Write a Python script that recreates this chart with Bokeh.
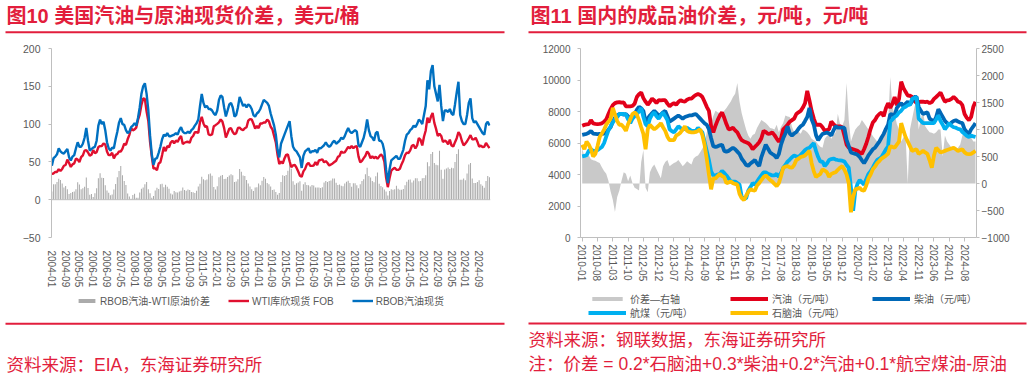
from bokeh.plotting import figure
from bokeh.models import (Range1d, LinearAxis, FixedTicker, Legend, LegendItem,
                          Label, BoxAnnotation, Span)
from bokeh.layouts import column, row
from bokeh.embed import file_html
from bokeh.resources import INLINE

# ---------------- 图10 data: monthly, from 2004-01 ----------------
us_start_year = 2004
wti = [
    34.3, 34.7, 36.7, 36.7, 40.3, 38.0, 40.7, 44.9, 45.9, 53.1, 48.5, 43.3,
    46.8, 48.0, 54.3, 53.0, 49.8, 56.3, 58.7, 65.0, 65.6, 62.4, 58.3, 59.4,
    65.5, 61.6, 62.9, 69.7, 70.9, 71.0, 74.4, 73.0, 63.8, 58.9, 59.1, 62.0,
    54.5, 59.3, 60.4, 64.0, 63.5, 67.5, 74.1, 72.4, 79.9, 85.8, 94.8, 91.7,
    93.0, 95.4, 105.5, 112.6, 125.4, 133.9, 133.4, 116.7, 104.1, 76.6, 57.3, 41.1,
    41.7, 39.1, 47.9, 49.6, 59.0, 69.6, 64.2, 71.0, 69.4, 75.7, 78.0, 74.5,
    78.3, 76.4, 81.2, 84.3, 73.7, 75.3, 76.3, 76.6, 75.2, 81.9, 84.3, 89.2,
    89.2, 88.6, 102.9, 109.5, 100.9, 96.3, 97.3, 86.3, 85.5, 86.3, 97.2, 98.6,
    100.3, 102.2, 106.2, 103.3, 94.7, 82.3, 87.9, 94.1, 94.5, 89.5, 86.5, 87.9,
    94.8, 95.3, 92.9, 92.0, 94.5, 95.8, 104.6, 106.6, 106.3, 100.5, 93.9, 97.6,
    94.6, 100.8, 100.8, 102.1, 102.2, 105.8, 103.6, 96.5, 93.2, 84.4, 75.8, 59.3,
    47.2, 50.6, 47.8, 54.5, 59.3, 59.8, 50.9, 42.9, 45.5, 46.2, 42.4, 37.2,
    31.7, 30.3, 37.5, 40.8, 46.7, 48.8, 44.7, 44.7, 45.2, 49.8, 45.7, 52.0,
    52.5, 53.5, 49.3, 51.1, 48.5, 45.2, 46.6, 48.0, 49.8, 51.6, 56.6, 57.9,
    63.7, 62.2, 62.7, 66.3, 70.0, 67.9, 71.0, 68.1, 70.2, 70.8, 57.0, 49.5,
    51.4, 55.0, 58.2, 63.9, 60.8, 54.7, 57.4, 54.8, 57.0, 54.0, 57.0, 59.9,
    57.5, 50.5, 29.2, 16.6, 28.5, 38.3, 40.7, 42.3, 39.6, 39.4, 40.9, 47.0,
    52.0, 59.0, 62.3, 61.7, 65.2, 71.4, 72.5, 67.7, 71.7, 81.5, 79.2, 71.7,
    83.2, 91.6, 108.5, 101.8, 109.6, 114.8, 101.6, 93.7, 84.3, 87.3, 84.4, 76.4,
    78.1, 76.8, 73.3, 79.4, 71.6, 70.3, 76.1, 81.4, 89.4, 85.6, 77.7, 71.9,
    74.2, 77.3, 81.3, 85.4, 80.0, 79.8, 81.8, 76.7, 70.2, 71.6, 69.7, 70.1,
    75.1, 71.5, 68.2,
]
rbob = [
    45, 55, 57, 60, 68, 64, 62, 61, 64, 67, 56, 52,
    57, 59, 68, 76, 70, 70, 74, 82, 95, 78, 65, 67,
    69, 70, 78, 98, 106, 100, 103, 92, 76, 68, 65, 69,
    68, 80, 90, 102, 108, 100, 99, 92, 88, 90, 96, 98,
    101, 98, 108, 122, 140, 150, 154, 140, 118, 85, 60, 46,
    54, 55, 62, 70, 80, 86, 84, 88, 84, 84, 85, 86,
    88, 86, 92, 96, 90, 88, 88, 90, 88, 92, 94, 98,
    101, 106, 124, 140, 128, 122, 124, 120, 120, 118, 114, 112,
    118, 132, 138, 136, 122, 110, 118, 126, 128, 122, 110, 112,
    122, 136, 130, 124, 126, 122, 126, 124, 120, 112, 110, 114,
    116, 120, 126, 132, 130, 128, 124, 114, 106, 98, 86, 66,
    56, 74, 80, 86, 92, 98, 104, 84, 70, 66, 64, 60,
    56, 42, 58, 64, 66, 68, 62, 64, 64, 66, 62, 68,
    68, 70, 72, 76, 72, 70, 72, 76, 78, 74, 76, 78,
    82, 80, 84, 90, 95, 90, 88, 90, 92, 90, 72, 70,
    76, 82, 92, 106, 92, 84, 82, 78, 88, 90, 78, 78,
    74, 64, 40, 22, 40, 52, 54, 56, 58, 54, 54, 60,
    66, 78, 86, 88, 92, 94, 98, 96, 100, 106, 104, 100,
    112, 124, 158, 146, 170, 178, 150, 140, 130, 152, 124, 104,
    118, 118, 116, 120, 114, 112, 126, 142, 156, 112, 104, 100,
    100, 112, 128, 134, 108, 102, 104, 100, 96, 92, 88, 86,
    100, 103, 98,
]
us_spread = [round(b - w, 1) for b, w in zip(rbob, wti)]   # RBOB汽油-WTI原油价差

# ---------------- 图11 data: monthly, from 2010-01 ----------------
cn_start_year = 2010
gasoline = [
    7100, 7150, 7180, 7200, 7450, 7250, 7220, 7200, 7220, 7250, 7350, 7500,
    7840, 8150, 8400, 8530, 8580, 8600, 8560, 8580, 8330, 8320, 8330, 8350,
    8500, 8920, 9100, 9210, 8850, 8620, 8430, 8600, 8820, 8700, 8530, 8720,
    8700, 8720, 8720, 8500, 8330, 8450, 8530, 8430, 8600, 8720, 8650, 8620,
    8750, 8820, 8820, 8950, 9050, 9110, 9050, 8920, 8620, 8300, 8040, 7060,
    6670, 7100, 7450, 7750, 7940, 7600, 7200, 6870, 6900, 6970, 6800, 6670,
    6400, 6180, 6100, 6050, 5990, 5850, 5600, 5750, 5890, 6050, 6300, 6770,
    6700, 6580, 6600, 6670, 6500, 6280, 6090, 6300, 6870, 7000, 7160, 7350,
    7450, 7550, 7840, 7950, 8040, 8250, 8530, 9310, 8700, 8040, 7550, 7160,
    7160, 7160, 7000, 6770, 6820, 6870, 7360, 7200, 7060, 7060, 7060, 7000,
    6480, 5900, 5700, 5650, 5600, 5550, 5500, 5400, 5310, 5600, 5950, 6400,
    6900, 7300, 7450, 7700, 7840, 7940, 7700, 8200, 8530, 8230, 8500, 8920,
    8400, 8800, 9890, 9500, 9250, 9010, 9000, 8920, 8700, 8530, 8600, 8620,
    8620, 8600, 8620, 8530, 8600, 8800, 8920, 9050, 9210, 8900, 8620, 8700,
    8720, 8800, 8920, 8800, 8620, 8580, 8400, 7840, 7600, 7450, 7650, 8300,
    8620,
]
diesel = [
    6520, 6550, 6580, 6650, 6770, 6600, 6580, 6560, 6580, 6580, 6600, 6670,
    6850, 7000, 7360, 7600, 7750, 7840, 7840, 7800, 7840, 7700, 7550, 7700,
    7840, 8100, 8300, 8200, 8040, 7360, 7550, 7750, 7900, 8040, 7900, 7750,
    7800, 7950, 8040, 7700, 7360, 7450, 7550, 7650, 7750, 7650, 7550, 7650,
    7700, 7750, 7750, 7800, 7840, 7700, 7550, 7400, 7250, 7160, 6870, 6300,
    5800, 5750, 5790, 5850, 5890, 5500, 5450, 5500, 5600, 5700, 5600, 5450,
    5300, 5000, 4820, 4600, 4550, 4700, 4800, 4920, 4700, 4530, 5110, 5500,
    5890, 5650, 5400, 5300, 5210, 5050, 5300, 5890, 6300, 6600, 7060, 6600,
    6480, 6600, 6700, 6900, 7060, 7160, 7400, 7650, 8230, 7500, 7160, 6500,
    6180, 6400, 6580, 6620, 6670, 6600, 6480, 6800, 7060, 6970, 6970, 6970,
    6970, 6200, 5800, 5400, 5350, 5310, 5250, 5110, 4900, 4720, 4950, 5210,
    5400, 5600, 5700, 5900, 6090, 6350, 6580, 6900, 7160, 7840, 7800, 7750,
    8230, 8400, 8530, 8330, 8500, 8620, 8430, 8650, 8920, 8920, 8300, 8040,
    7840, 7900, 7940, 7550, 7450, 7360, 7650, 8140, 7900, 7650, 7400, 7260,
    7160, 7300, 7400, 7450, 7360, 7300, 7260, 6870, 6700, 6580, 6870, 7050,
    7260,
]
jet = [
    5150, 5180, 5210, 5500, 5600, 5500, 5500, 5550, 5650, 5750, 5990, 6400,
    6800, 7060, 7300, 7500, 7650, 7840, 7840, 7840, 7800, 7500, 7260, 7550,
    7700, 7840, 8000, 8230, 7650, 7200, 7060, 7550, 7800, 7940, 7700, 7550,
    7750, 7940, 7700, 7450, 6870, 6750, 6670, 6870, 7060, 6950, 6870, 6900,
    6970, 6870, 6770, 6770, 6770, 6970, 6800, 6670, 6090, 5500, 4920, 4200,
    3940, 3940, 4000, 4040, 4230, 4100, 3940, 3750, 3550, 3550, 3550, 3450,
    3360, 2580, 2480, 2480, 2970, 3200, 3450, 3360, 3550, 3750, 3950, 4140,
    4140, 4040, 4000, 3940, 3940, 4040, 3840, 4100, 4430, 4600, 4820, 4950,
    5100, 5210, 5150, 5110, 5250, 5400, 5550, 5650, 5700, 5850, 5990, 5500,
    5110, 4820, 4820, 4530, 4700, 4920, 4980, 5010, 4950, 4920, 4900, 4880,
    4820, 4600, 4430, 3160, 1700, 2970, 3400, 3650, 3500, 3360, 3700, 4040,
    4200, 4430, 4700, 4920, 5000, 5110, 5350, 5600, 5790, 7360, 7500, 7650,
    7750, 7940, 8050, 8230, 8300, 8400, 8430, 8820, 8850, 8920, 7550, 7400,
    7260, 7260, 7260, 7260, 7260, 7260, 7500, 7750, 7400, 7160, 6870, 7050,
    7260, 7100, 7000, 6970, 6900, 6870, 6700, 6580, 6450, 6380, 6480, 6420,
    6380,
]
naphtha = [
    5890, 5600, 6090, 5900, 5600, 5150, 5300, 5800, 6380, 6600, 6850, 7160,
    7350, 7550, 8230, 7800, 7400, 7160, 7160, 7000, 6770, 7200, 7500, 7840,
    7940, 7800, 7450, 7000, 6580, 5600, 6870, 7160, 7000, 6870, 6970, 7100,
    7260, 7000, 6770, 6400, 6180, 6180, 6180, 6480, 6550, 6670, 6850, 7060,
    6770, 6700, 6670, 6670, 6700, 6770, 6870, 6500, 5890, 5000, 4000, 3060,
    3750, 3750, 3900, 4040, 3900, 3840, 3450, 3500, 3550, 3450, 3400, 3360,
    2770, 2500, 2380, 2650, 2900, 3060, 3000, 2970, 3300, 3450, 3650, 3840,
    3940, 3800, 3650, 3550, 3400, 3260, 3450, 3900, 4430, 4500, 4530, 4450,
    4430, 4600, 4920, 5000, 5110, 5150, 5210, 5350, 5500, 4720, 4200, 3840,
    3950, 4040, 4330, 4250, 4140, 3840, 4040, 4100, 4140, 4300, 4430, 4530,
    4300, 4000, 3450, 1600, 2580, 3060, 3100, 3160, 3000, 2970, 3300, 3750,
    4000, 4330, 4500, 4720, 4850, 5010, 5100, 5200, 5310, 5790, 5750, 5700,
    5900, 6090, 7260, 6800, 6380, 6090, 5800, 5500, 5550, 5600, 5310, 5400,
    5500, 5400, 5310, 4900, 4430, 5200, 5700, 5550, 5400, 5450, 5500, 5550,
    5600, 5650, 5700, 5600, 5500, 5550, 5600, 5400, 5310, 5300, 5310, 5400,
    5500,
]
cn_spread = [
    650, 500, 480, 520, 450, 430, 420, 400, 380, 300, 230, 180,
    50, -150, -300, -530, -250, -130, 50, 210, 180, 40, 150, 10,
    -80, -100, -130, 400, 620, -80, -160, 210, 300, 350, 265, 180,
    95, 320, 400, 435, 320, 350, 380, 400, 435, 380, 320, 360,
    410, 380, 350, 465, 500, 520, 580, 650, 720, 950, 1050, 1120,
    1250, 1345, 1320, 1300, 1290, 1345, 1400, 1460, 1520, 1600, 1660, 1860,
    1520, 1300, 1150, 1000, 890, 830, 900, 920, 1030, 1100, 1175, 1150,
    1120, 1080, 1030, 1020, 1000, 1090, 950, 1050, 1120, 1260, 1240, 1230,
    1050, 950, 1000, 960, 920, 1000, 980, 950, 900, 830, 800, 780,
    720, 680, 660, 830, 880, 920, 830, 900, 950, 1290, 1100, 1060,
    1175, 1860, 1175, 780, 900, 1000, 1050, 1090, 1175, 1120, 1060, 1000,
    950, 880, 830, 780, 800, 830, 950, 1050, 1120, 1970, 1400, 1290,
    1100, 1000, 780, 850, 890, 0, 1000, 1200, 1400, 1570, 1000, 1200,
    1345, 1060, 1000, 950, 940, 920, 950, 1000, 1000, 500, 890, 780,
    720, 660, 640, 600, 660, 720, 890, 950, 1000, 890, 850, 780,
    780,
]

us_labels = ["RBOB汽油-WTI原油价差", "WTI库欣现货 FOB", "RBOB汽油现货"]
cn_labels = ["价差—右轴", "汽油（元/吨）", "柴油（元/吨）", "航煤（元/吨）", "石脑油（元/吨）"]
title_left = "图10  美国汽油与原油现货价差，美元/桶"
title_right = "图11  国内的成品油价差，元/吨，元/吨"
source_left = "资料来源：EIA，东海证券研究所"
source_right = "资料来源：钢联数据，东海证券研究所"
note_right = "注：价差 = 0.2*石脑油+0.3*柴油+0.2*汽油+0.1*航空煤油-原油"

us_months = [f"{us_start_year + i // 12}-{i % 12 + 1:02d}" for i in range(len(wti))]
cn_months = [f"{cn_start_year + i // 12}-{i % 12 + 1:02d}" for i in range(len(gasoline))]
us_x = list(range(len(wti)))
cn_x = list(range(len(gasoline)))
us_ticks = list(range(0, len(wti), 8))
cn_ticks = list(range(0, len(gasoline), 7))

# ---------------- styles ----------------
RED_TXT = "#E21E3C"
AX = "#BFBFBF"
LBL = "#595959"
NUM_FONT = "Liberation Sans"
MIX_FONT = "Liberation Sans, Noto Sans CJK SC"
C_BAR, C_WTI, C_RBOB = "#ABABAB", "#E0102F", "#0070C0"
C_SP, C_GAS, C_DIE, C_JET, C_NAP = "#C9C9C9", "#E2001A", "#0068B7", "#00B0F0", "#FFC000"
LW_US, LW_CN = 2.4, 3.8


def style_common(p):
    p.xgrid.visible = False
    p.ygrid.visible = False
    p.outline_line_color = None
    p.background_fill_color = "white"
    for ax in p.xaxis + p.yaxis:
        ax.major_label_text_font = NUM_FONT
        ax.major_label_text_color = LBL
        ax.minor_tick_line_color = None
        ax.axis_line_color = AX
        ax.major_tick_line_color = AX
        ax.major_tick_in = 0


TOP = 34          # header height
CH_H = 256        # chart figures span y = 34 … 290

# ---------------- 图10 ----------------
p1 = figure(width=516, height=CH_H, output_backend="svg", toolbar_location=None,
            x_range=Range1d(-0.2, 254.6), y_range=Range1d(-50, 200),
            min_border_left=51, min_border_right=26, min_border_top=14,
            min_border_bottom=CH_H - 14 - 195)
style_common(p1)
p1.add_layout(Span(location=0, dimension="width", line_color=AX, line_width=1))
p1.vbar(x=us_x, top=us_spread, width=0.6, fill_color=C_BAR, line_color=None)
p1.line(us_x, wti, line_color=C_WTI, line_width=LW_US)
p1.line(us_x, rbob, line_color=C_RBOB, line_width=LW_US)

p1.yaxis.ticker = FixedTicker(ticks=[-50, 0, 50, 100, 150, 200])
p1.yaxis.major_tick_out = 3
p1.yaxis.major_label_standoff = 8
p1.yaxis.major_label_text_font_size = "10.5px"
p1.xaxis.ticker = FixedTicker(ticks=us_ticks)
p1.xaxis.major_label_overrides = {i: us_months[i] for i in us_ticks}
p1.xaxis.major_label_orientation = "vertical"
p1.xaxis.axis_line_color = None
p1.xaxis.major_tick_line_color = None
p1.xaxis.major_label_standoff = 7
p1.xaxis.major_label_text_font_size = "10px"

# ---------------- 图11 ----------------
p2 = figure(width=516, height=CH_H, output_backend="svg", toolbar_location=None,
            x_range=Range1d(-0.78, 180.46), y_range=Range1d(0, 12000),
            min_border_left=64, min_border_right=56, min_border_top=5,
            min_border_bottom=CH_H - 5 - 205)
p2.extra_y_ranges = {"right": Range1d(-1000, 2500)}
p2.add_layout(LinearAxis(y_range_name="right",
                         ticker=FixedTicker(ticks=list(range(-1000, 2501, 500)))), "right")
style_common(p2)
p2.varea(x=cn_x, y1=0, y2=cn_spread, y_range_name="right", fill_color=C_SP)
p2.line(cn_x, gasoline, line_color=C_GAS, line_width=LW_CN)
p2.line(cn_x, diesel, line_color=C_DIE, line_width=LW_CN)
p2.line(cn_x, jet, line_color=C_JET, line_width=LW_CN)
p2.line(cn_x, naphtha, line_color=C_NAP, line_width=LW_CN)

p2.yaxis[0].ticker = FixedTicker(ticks=list(range(0, 12001, 2000)))
p2.yaxis[0].major_label_standoff = 7
p2.yaxis[1].major_label_standoff = 2
for ax in p2.yaxis:
    ax.major_tick_out = 3
    ax.major_label_text_font_size = "10px"
p2.xaxis.ticker = FixedTicker(ticks=cn_ticks)
p2.xaxis.major_label_overrides = {i: cn_months[i] for i in cn_ticks}
p2.xaxis.major_label_orientation = "vertical"
p2.xaxis.major_tick_out = 4
p2.xaxis.major_label_standoff = 3
p2.xaxis.major_label_text_font_size = "10px"


# ---------------- header / footer (page coordinates, y downwards) ----------------
def deco(y0, y1):
    f = figure(width=1032, height=y1 - y0, output_backend="svg", toolbar_location=None,
               x_range=Range1d(0, 1032), y_range=Range1d(y1, y0),
               x_axis_type=None, y_axis_type=None, min_border=0)
    f.outline_line_color = None
    f.xgrid.visible = False
    f.ygrid.visible = False
    return f


hdr = deco(0, TOP)
for x, t in [(6, title_left), (530, title_right)]:
    hdr.add_layout(Label(x=x, y=15, text=t, text_baseline="middle", text_align="left",
                         text_font=MIX_FONT, text_font_size="20px", text_font_style="bold",
                         text_color=RED_TXT))
hdr.add_layout(BoxAnnotation(left=5, right=504, top=30.7, bottom=32.7,
                             fill_color=RED_TXT, fill_alpha=1, line_color=None))
hdr.add_layout(BoxAnnotation(left=528, right=1026, top=30.7, bottom=32.7,
                             fill_color=RED_TXT, fill_alpha=1, line_color=None))

ftr = deco(TOP + CH_H, 390)

# legend keys: renderers with the chart styles but no visible points
NA = [float("nan")]
k_bar = ftr.vbar(x=NA, top=NA, width=0.6, fill_color=C_BAR, line_color=None)
k_wti = ftr.line(x=NA, y=NA, line_color=C_WTI, line_width=LW_US)
k_rbob = ftr.line(x=NA, y=NA, line_color=C_RBOB, line_width=LW_US)
k_sp = ftr.varea(x=NA, y1=NA, y2=NA, fill_color=C_SP)
k_gas = ftr.line(x=NA, y=NA, line_color=C_GAS, line_width=LW_CN)
k_die = ftr.line(x=NA, y=NA, line_color=C_DIE, line_width=LW_CN)
k_jet = ftr.line(x=NA, y=NA, line_color=C_JET, line_width=LW_CN)
k_nap = ftr.line(x=NA, y=NA, line_color=C_NAP, line_width=LW_CN)

leg_style = dict(orientation="horizontal", glyph_height=5, label_height=12,
                 padding=0, margin=0, label_text_font=MIX_FONT,
                 label_text_font_size="10px", label_text_color=LBL,
                 background_fill_alpha=0, border_line_color=None)
leg1 = Legend(items=[LegendItem(label=us_labels[0], renderers=[k_bar]),
                     LegendItem(label=us_labels[1], renderers=[k_wti]),
                     LegendItem(label=us_labels[2], renderers=[k_rbob])],
              location=(76, 390 - 308), glyph_width=21, label_standoff=3, spacing=18,
              **leg_style)
cn_style = dict(glyph_width=38, label_width=98, label_standoff=4, spacing=2, **leg_style)
leg2a = Legend(items=[LegendItem(label=cn_labels[0], renderers=[k_sp]),
                      LegendItem(label=cn_labels[1], renderers=[k_gas]),
                      LegendItem(label=cn_labels[2], renderers=[k_die])],
               location=(588, 390 - 306), **cn_style)
leg2b = Legend(items=[LegendItem(label=cn_labels[3], renderers=[k_jet]),
                      LegendItem(label=cn_labels[4], renderers=[k_nap])],
               location=(588, 390 - 320), **cn_style)
ftr.add_layout(leg1)
ftr.add_layout(leg2a)
ftr.add_layout(leg2b)

ftr.add_layout(BoxAnnotation(left=5, right=504, top=322.3, bottom=324.3,
                             fill_color=RED_TXT, fill_alpha=1, line_color=None))
ftr.add_layout(BoxAnnotation(left=528, right=1026, top=322.0, bottom=324.0,
                             fill_color=RED_TXT, fill_alpha=1, line_color=None))
for x, y, t in [(6, 364, source_left), (528, 339, source_right), (528, 363, note_right)]:
    ftr.add_layout(Label(x=x, y=y, text=t, text_baseline="middle", text_align="left",
                         text_font=MIX_FONT, text_font_size="17.5px", text_color=RED_TXT))

layout = column(hdr, row(p1, p2), ftr)

open("out.html", "w").write(file_html(layout, INLINE))
